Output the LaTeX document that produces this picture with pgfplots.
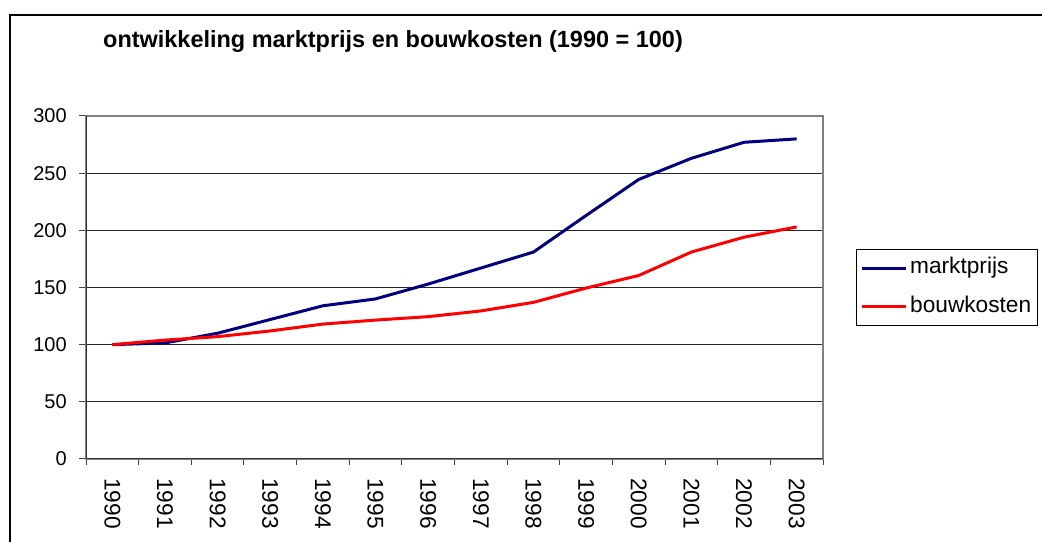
\documentclass[border=0pt]{standalone}
\usepackage{pgfplots}
\pgfplotsset{compat=1.18}
\usepackage{fontspec}
\setmainfont{Liberation Sans}
\definecolor{navy}{RGB}{0,0,128}
\definecolor{xred}{RGB}{255,0,0}
\pgfplotstableread{
x y
0 100
1 101.5
2 110
3 122
4 134
5 140
6 153
7 167
8 181
9 213
10 244.5
11 263
12 277
13 280
}\marktprijs
\pgfplotstableread{
x y
0 100
1 104
2 107
3 112
4 118
5 121.5
6 124.5
7 129.5
8 137
9 149.5
10 160.5
11 181
12 194
13 203
}\bouwkosten
\begin{document}
\begin{tikzpicture}
\useasboundingbox (0,0) rectangle (781.5pt,406.5pt);
\fill[white] (0,0) rectangle (781.5pt,406.5pt);
\draw[line width=1.5pt] (7.5pt,-2pt) -- (7.5pt,395.25pt) -- (784pt,395.25pt);
\node[anchor=base, font=\fontsize{17.6}{20}\selectfont\bfseries] at (294.75pt,371pt) {ontwikkeling marktprijs en bouwkosten (1990 = 100)};
\begin{axis}[
  at={(64.5pt,62.25pt)}, anchor=south west,
  scale only axis, width=552.75pt, height=257.25pt,
  xmin=-0.5, xmax=13.5, ymin=0, ymax=300,
  axis line style={draw=black!50, line width=1pt},
  tick pos=left,
  xtick={0,1,2,3,4,5,6,7,8,9,10,11,12,13},
  xticklabels={1990,1991,1992,1993,1994,1995,1996,1997,1998,1999,2000,2001,2002,2003},
  minor xtick={-0.5,0.5,1.5,2.5,3.5,4.5,5.5,6.5,7.5,8.5,9.5,10.5,11.5,12.5,13.5},
  major x tick style={draw=none},
  minor x tick style={black!75, line width=0.75pt},
  minor tick length=4.5pt,
  ytick={0,50,100,150,200,250,300},
  y tick style={black!75, line width=0.75pt},
  major tick length=5.25pt,
  tick align=outside,
  ymajorgrids,
  grid style={black!85, line width=0.75pt},
  /pgf/number format/assume math mode=true,
  yticklabel style={font=\fontsize{15}{18}\selectfont, inner sep=0pt},
  yticklabel shift=9pt,
  xticklabel style={font=\fontsize{17}{20}\selectfont, inner sep=0pt, rotate=-90, anchor=west},
  xticklabel shift=9pt,
  legend style={at={(1.0448,0.6122)}, anchor=north west, draw=black, line width=0.75pt,
    font=\fontsize{17}{20}\selectfont, inner xsep=3pt, inner ysep=4pt, row sep=9pt,
    column sep=0pt, nodes={inner sep=2pt, text height=12pt, text depth=4pt}},
  legend cell align=left,
  legend image code/.code={\draw[#1, line width=2.25pt] (0pt,0pt) -- (33pt,0pt);},
]
\addplot[navy, line width=2.25pt, line join=round] table[x=x, y=y] {\marktprijs};
\addlegendentry{marktprijs}
\addplot[xred, line width=2.25pt, line join=round] table[x=x, y=y] {\bouwkosten};
\addlegendentry{bouwkosten}
\draw[black!80, line width=1.2pt] (rel axis cs:0,0) -- (rel axis cs:0,1);
\draw[black!80, line width=1.2pt] (rel axis cs:0,0) -- (rel axis cs:1,0);
\end{axis}
\end{tikzpicture}
\end{document}
